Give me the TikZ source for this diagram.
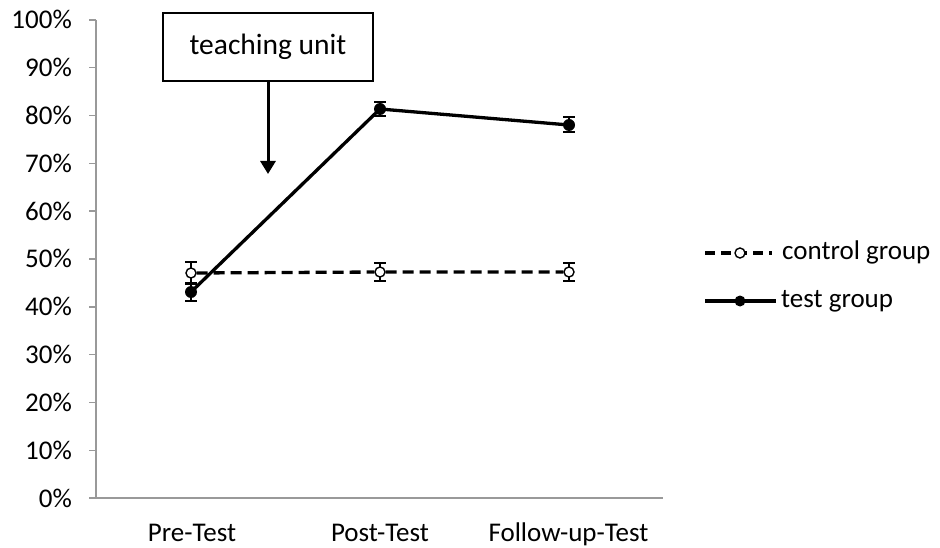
\documentclass[tikz,border=0pt]{standalone}
\usepackage{fontspec}
\setmainfont{Carlito}
\usetikzlibrary{arrows.meta}

\def\ybase{498}
\def\yunit{4.78}

\begin{document}
\begin{tikzpicture}[x=1pt,y=-1pt]
  \tikzset{axis/.style={draw=black!40,line width=1.4pt},
    txt/.style={font=\fontsize{27}{30}\selectfont,inner sep=0pt},
    errbar/.style={line width=1.3pt},
    testline/.style={line width=3.3pt},
    ctrlline/.style={line width=3.3pt,dash pattern=on 11pt off 6pt},
    testmark/.style={circle,fill=black,inner sep=0pt,minimum size=12pt},
    ctrlmark/.style={circle,draw=black,fill=white,line width=1.4pt,inner sep=0pt,minimum size=10pt}}

  \useasboundingbox (0,0) rectangle (940,548);

  \draw[axis] (96,20) -- (96,498) -- (663,498);
  \foreach \p in {0,10,...,100}{
    \draw[axis] (89,{\ybase-\yunit*\p}) -- (96,{\ybase-\yunit*\p});
    \node[txt,anchor=base east] (ytick\p) at (72,{\ybase-\yunit*\p+9}) {\p\%};
  }
  \node[txt,anchor=base] (pre) at (192,541) {Pre-Test};
  \node[txt,anchor=base] (post) at (380,541) {Post-Test};
  \node[txt,anchor=base] (follow) at (568.5,541) {Follow-up-Test};

  \foreach \x/\lo/\hi in {191/262/283,380/263/281,569/263/281,191/284/301,380/102/116,569/117/132}{
    \draw[errbar] (\x,\lo) -- (\x,\hi);
    \draw[errbar] (\x-6,\lo) -- (\x+6,\lo);
    \draw[errbar] (\x-6,\hi) -- (\x+6,\hi);
  }

  \node[ctrlmark] (cpre) at (191,273) {};
  \node[ctrlmark] (cpost) at (380,272) {};
  \node[ctrlmark] (cfollow) at (569,272) {};
  \draw[ctrlline] (cpre) -- (cpost) -- (cfollow);

  \draw[testline] (191,292) -- (380,109) -- (569,125);
  \node[testmark] (tpre) at (191,292) {};
  \node[testmark] (tpost) at (380,109) {};
  \node[testmark] (tfollow) at (569,125) {};

  \node[draw,line width=1.2pt,minimum width=210pt,minimum height=68pt,font=\fontsize{29.5}{32}\selectfont] (unit) at (268,47) {teaching unit};
  \coordinate (tip) at (268,174);
  \draw[line width=3pt,-{Triangle[width=15pt,length=13pt]}] (unit) -- (tip);

  \coordinate (c1) at (705,253);
  \coordinate (c2) at (772,253);
  \draw[ctrlline,dash pattern=on 10pt off 6pt] (c1) -- (c2);
  \node[ctrlmark] (cleg) at (740,253) {};
  \node[txt,anchor=base west] (ctext) at (782,259) {control group};

  \coordinate (t1) at (705,301);
  \coordinate (t2) at (776,301);
  \draw[testline] (t1) -- (t2);
  \node[testmark,minimum size=11pt] (tleg) at (740,301) {};
  \node[txt,anchor=base west] (ttext) at (781,307) {test group};
\end{tikzpicture}
\end{document}
